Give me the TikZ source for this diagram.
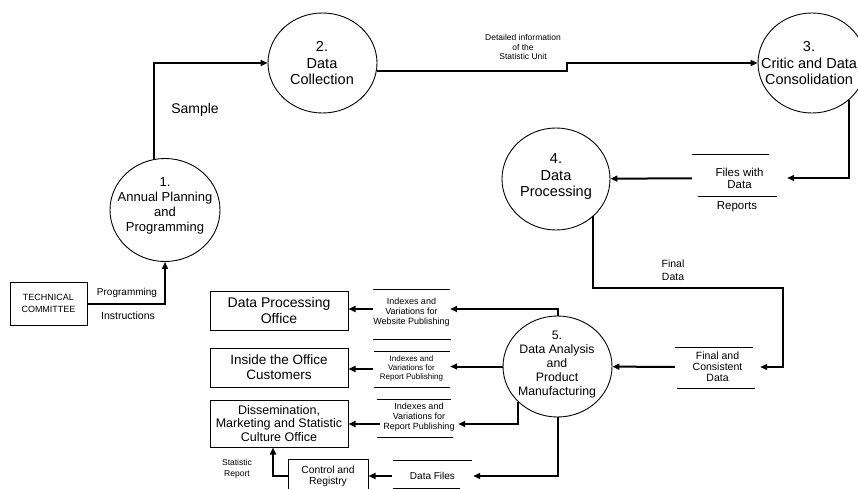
\documentclass[tikz,border=0pt]{standalone}
\usepackage{fontspec}
\setmainfont{Liberation Sans}
\usetikzlibrary{shapes.geometric,arrows.meta}
\newcommand{\myfs}[2]{\fontsize{#1}{#2}\selectfont}
\begin{document}
\begin{tikzpicture}[x=1pt,y=-1pt,
  proc/.style={draw, ellipse, line width=0.9pt, inner sep=0pt},
  ptext/.style={align=center, inner sep=0pt},
  ebox/.style={draw, rectangle, line width=1pt, inner sep=0pt, align=center},
  store/.style={inner sep=0pt, align=center},
  sline/.style={line width=1pt},
  flow/.style={line width=2pt, -{Triangle[length=7pt,width=6pt]}},
  lbl/.style={inner sep=0pt, align=center}
]
\useasboundingbox (0,0) rectangle (858,489);
\clip (0,0) rectangle (858,489);

% processes
\node[proc, minimum width=110pt, minimum height=103pt] (c1) at (165,210) {};
\node[proc, minimum width=109pt, minimum height=100pt] (c2) at (322.5,63) {};
\node[proc, minimum width=108pt, minimum height=100pt] (c3) at (812,63) {};
\node[proc, minimum width=108pt, minimum height=102pt] (c4) at (556,179) {};
\node[proc, minimum width=109pt, minimum height=101pt] (c5) at (557.5,366.5) {};

\node[ptext, font={\myfs{13}{15}}] (t1) at (165,206) {1.\\Annual Planning\\and\\Programming};
\node[ptext, font={\myfs{14.5}{16.5}}] (t2) at (322,63.5) {2.\\Data\\Collection};
\node[ptext, font={\myfs{14.5}{16.5}}] (t3) at (809,63.5) {3.\\Critic and Data\\Consolidation};
\node[ptext, font={\myfs{14.5}{16.5}}] (t4) at (556,177) {4.\\Data\\Processing};
\node[ptext, font={\myfs{12.3}{13.8}}] (t5) at (557,364.5) {5.\\Data Analysis\\and\\Product\\Manufacturing};

% external entities
\node[ebox, font={\myfs{9}{12}}, minimum width=77pt, minimum height=43pt] (tech) at (48.5,303.5) {TECHNICAL\\COMMITTEE};
\node[ebox, font={\myfs{14}{15.5}}, minimum width=138pt, minimum height=39pt] (B1) at (279,310.5) {Data Processing\\Office};
\node[ebox, font={\myfs{13.5}{15}}, minimum width=138pt, minimum height=39pt] (B2) at (279,367.5) {Inside the Office\\Customers};
\node[ebox, font={\myfs{12.5}{13.5}}, minimum width=138pt, minimum height=47pt] (B3) at (279,423.5) {Dissemination,\\Marketing and Statistic\\Culture Office};
\node[ebox, font={\myfs{10.3}{11}}, minimum width=80pt, minimum height=34pt] (B4) at (328,476) {Control and\\Registry};

% data stores
\node[store, font={\myfs{11.5}{12}}, minimum width=95pt, minimum height=30pt] (S1) at (739.5,178) {Files with\\Data};
\node[lbl, font={\myfs{11.5}{12}}] (rep) at (737,207) {Reports};
\node[store, font={\myfs{10.5}{11}}, minimum width=85pt, minimum height=30pt] (S2) at (717.5,367) {Final and\\Consistent\\Data};
\node[store, font={\myfs{9}{10}}, minimum width=77pt, minimum height=30pt] (SA) at (411.5,312) {Indexes and\\Variations for\\Website Publishing};
\node[store, font={\myfs{8}{9}}, minimum width=77pt, minimum height=30pt] (SB) at (411.5,368) {Indexes and\\Variations for\\Report Publishing};
\node[store, font={\myfs{9}{10}}, minimum width=78pt, minimum height=30pt] (SC) at (419,417) {Indexes and\\Variations for\\Report Publishing};
\node[store, font={\myfs{10}{11}}, minimum width=81pt, minimum height=20pt] (SD) at (432.5,476) {Data Files};

\draw[sline] (692,155) -- (769,155);
\draw[sline] (698,196) -- (777,196);
\draw[sline] (675,347) -- (753,347);
\draw[sline] (677,388) -- (755,388);
\draw[sline] (373,289) -- (450,289);
\draw[sline] (373,339) -- (451,339);
\draw[sline] (374,351) -- (450,351);
\draw[sline] (374,387) -- (450,387);
\draw[sline] (377,399) -- (451,399);
\draw[sline] (377,437) -- (453,437);
\draw[sline] (393,460) -- (472,460);
\draw[sline] (393,488) -- (460,488);

% labels
\node[lbl, font={\myfs{14}{16}}] (lsample) at (195,110) {Sample};
\node[lbl, font={\myfs{8.5}{9.5}}] (ldet) at (523,47) {Detailed information\\of the\\Statistic Unit};
\node[lbl, font={\myfs{10}{12}}] (lprog) at (127,293) {Programming};
\node[lbl, font={\myfs{10.5}{12}}] (linst) at (128,316) {Instructions};
\node[lbl, font={\myfs{10.5}{13}}] (lfinal) at (673,270.5) {Final\\Data};
\node[lbl, font={\myfs{8.5}{11}}] (lstat) at (237,468.5) {Statistic\\Report};

% flows
\coordinate (st) at (567,63);
\coordinate (k1) at (783,288);
\draw[flow] (tech.east) -| (c1.south);
\draw[flow] (c1.102) |- (c2.west);
\draw[flow] (c2.-8) -| (st) -- (c3.west);
\draw[flow] (c3.-45) |- (S1.east);
\draw[flow] (S1) -- (c4);
\draw[flow] (c4.-45) |- (k1) |- (S2.east);
\draw[flow] (S2) -- (c5);
\draw[flow] (c5.north) |- ([yshift=3pt]SA.east);
\draw[flow] (c5.west) -- (c5.west -| SB.east);
\draw[flow] (c5.222) |- ([yshift=-7pt]SC.east);
\draw[flow] (c5.south) |- (SD.east);
\draw[flow] ([yshift=3pt]SA.west) -- ([yshift=3pt]SA.west -| B1.east);
\draw[flow] ([yshift=-1pt]SB.west) -- ([yshift=-1pt]SB.west -| B2.east);
\draw[flow] ([yshift=-7pt]SC.west) -- ([yshift=-7pt]SC.west -| B3.east);
\draw[flow] (SD.west) -- (B4.east);
\draw[flow] (B4.west) -| ([xshift=-6pt]B3.south);
\end{tikzpicture}
\end{document}
